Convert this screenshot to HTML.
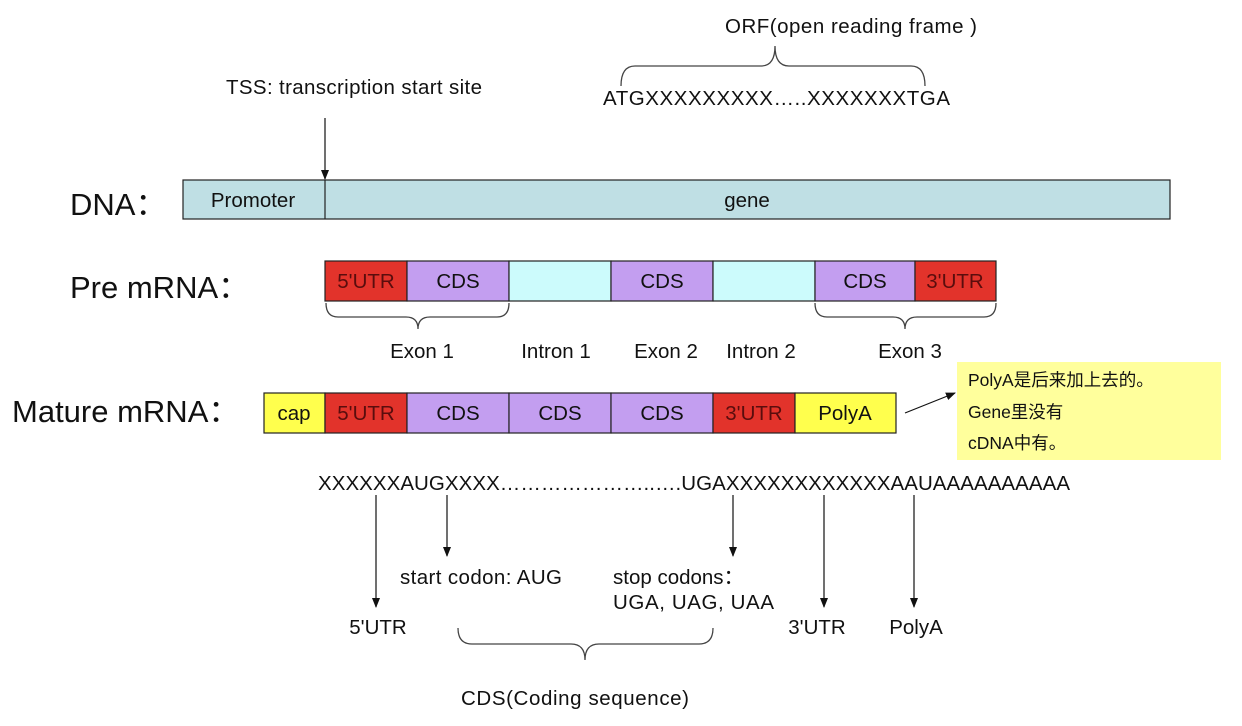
<!DOCTYPE html><html><head><style>body{margin:0;background:#fff}svg{display:block}text{font-family:"Liberation Sans","Noto Sans CJK SC",sans-serif;fill:#111}</style></head><body>
<svg width="1242" height="726" viewBox="0 0 1242 726">
<defs><marker id="a" markerWidth="10" markerHeight="10" refX="9" refY="5" orient="auto" markerUnits="userSpaceOnUse"><path d="M0,1 L10,5 L0,9 z" fill="#111"/></marker></defs>
<g stroke="#222" stroke-width="1.2">
<rect x="183" y="180" width="987" height="39" fill="#bfdfe4"/>
<line x1="325" y1="180" x2="325" y2="219"/>
<rect x="325" y="261" width="82" height="40" fill="#e2332b"/>
<rect x="407" y="261" width="102" height="40" fill="#c39ef0"/>
<rect x="509" y="261" width="102" height="40" fill="#ccfbfc"/>
<rect x="611" y="261" width="102" height="40" fill="#c39ef0"/>
<rect x="713" y="261" width="102" height="40" fill="#ccfbfc"/>
<rect x="815" y="261" width="100" height="40" fill="#c39ef0"/>
<rect x="915" y="261" width="81" height="40" fill="#e2332b"/>
<rect x="264" y="393" width="61" height="40" fill="#ffff4d"/>
<rect x="325" y="393" width="82" height="40" fill="#e2332b"/>
<rect x="407" y="393" width="102" height="40" fill="#c39ef0"/>
<rect x="509" y="393" width="102" height="40" fill="#c39ef0"/>
<rect x="611" y="393" width="102" height="40" fill="#c39ef0"/>
<rect x="713" y="393" width="82" height="40" fill="#e2332b"/>
<rect x="795" y="393" width="101" height="40" fill="#ffff4d"/>
</g>
<rect x="957" y="362" width="264" height="98" fill="#ffff9c"/>
<g fill="none" stroke="#444" stroke-width="1.3">
<path d="M326,303 q0,14 12,14 h68 q12,0 12,12 q0,-12 12,-12 h67 q12,0 12,-14"/>
<path d="M815,303 q0,14 12,14 h66 q12,0 12,12 q0,-12 12,-12 h67 q12,0 12,-14"/>
<path d="M621,86 q0,-20 14,-20 h126 q14,0 14,-20 q0,20 14,20 h122 q14,0 14,20"/>
<path d="M458,628 q0,16 14,16 h99 q14,0 14,16 q0,-16 14,-16 h100 q14,0 14,-16"/>
</g>
<g stroke="#111" stroke-width="1.2" marker-end="url(#a)">
<line x1="325" y1="118" x2="325" y2="179"/>
<line x1="905" y1="413" x2="955" y2="393"/>
<line x1="376" y1="495" x2="376" y2="607"/>
<line x1="447" y1="495" x2="447" y2="556"/>
<line x1="733" y1="495" x2="733" y2="556"/>
<line x1="824" y1="495" x2="824" y2="607"/>
<line x1="914" y1="495" x2="914" y2="607"/>
</g>
<g font-size="20.5" text-anchor="middle">
<text x="253" y="207">Promoter</text><text x="747" y="207">gene</text>
<text x="366" y="288" style="fill:#5a0d0d">5'UTR</text><text x="458" y="288">CDS</text><text x="662" y="288">CDS</text><text x="865" y="288">CDS</text><text x="955" y="288" style="fill:#5a0d0d">3'UTR</text>
<text x="294" y="420">cap</text><text x="366" y="420" style="fill:#5a0d0d">5'UTR</text><text x="458" y="420">CDS</text><text x="560" y="420">CDS</text><text x="662" y="420">CDS</text><text x="754" y="420" style="fill:#5a0d0d">3'UTR</text><text x="845" y="420">PolyA</text>
<text x="422" y="358">Exon 1</text><text x="556" y="358">Intron 1</text><text x="666" y="358">Exon 2</text><text x="761" y="358">Intron 2</text><text x="910" y="358">Exon 3</text>
<text x="378" y="634">5'UTR</text><text x="817" y="634">3'UTR</text><text x="916" y="634">PolyA</text>
</g>
<g font-size="20.5">
<text x="725" y="33" textLength="252">ORF(open reading frame )</text>
<text x="603" y="105" textLength="347">ATGXXXXXXXXX…..XXXXXXXTGA</text>
<text x="318" y="490" textLength="752">XXXXXXAUGXXXX…………………..….UGAXXXXXXXXXXXXAAUAAAAAAAAAA</text>
<text x="461" y="705" textLength="228">CDS(Coding sequence)</text>
<text x="226" y="94" textLength="256">TSS: transcription start site</text>
<text x="400" y="584" textLength="162">start codon: AUG</text>
<text x="613" y="584">stop codons：</text><text x="613" y="609" textLength="161">UGA, UAG, UAA</text>
</g>
<g font-size="17.5"><text x="968" y="386">PolyA是后来加上去的。</text><text x="968" y="418">Gene里没有</text><text x="968" y="449">cDNA中有。</text></g>
<g font-size="31"><text x="70" y="215">DNA：</text><text x="70" y="298">Pre mRNA：</text><text x="12" y="422">Mature mRNA：</text></g>
</svg></body></html>
